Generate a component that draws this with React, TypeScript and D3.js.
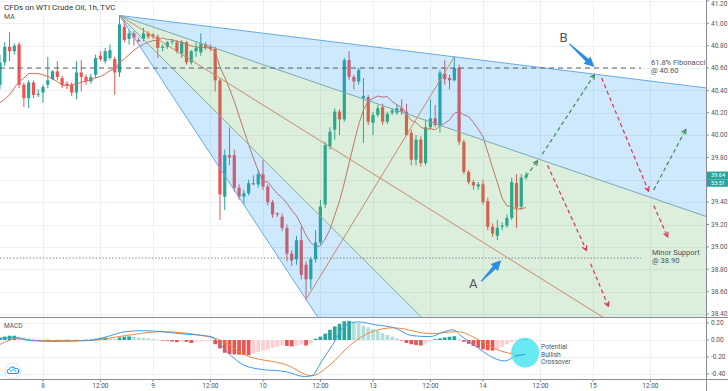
import React from "react";
import * as d3 from "d3";

const W = 728;
const H = 391;

// ---------- DATA ----------
const firstHour = -9; // hour index of first candle (0 = start of day "8")
const opens = [40.45,40.65,40.79,40.75,40.81,40.45,40.33,40.47,40.36,40.38,40.45,40.50,40.57,40.51,40.46,40.45,40.38,40.56,40.52,40.48,40.54,40.71,40.66,40.69,40.68,40.56,40.97,40.86,40.91,40.85,40.86,40.91,40.90,40.88,40.78,40.79,40.83,40.83,40.73,40.83,40.65,40.75,40.74,40.81,40.79,40.77,40.49,39.45,39.82,39.82,39.53,39.45,39.48,39.57,39.56,39.65,39.54,39.40,39.30,39.27,39.17,38.94,38.89,39.06,38.84,38.71,38.89,39.04,39.38,39.90,40.05,40.21,40.14,40.67,40.52,40.48,40.33,40.34,40.11,40.18,40.25,40.12,40.20,40.20,40.24,40.21,40.02,39.78,39.96,39.75,40.07,40.15,40.08,40.55,40.51,40.49,40.60,39.94,39.67,39.58,39.54,39.56,39.41,39.18,39.10,39.18,39.19,39.26,39.57,39.36,39.62];
const highs = [40.72,40.83,40.92,40.82,40.83,40.47,40.49,40.49,40.41,40.45,40.70,40.58,40.66,40.53,40.48,40.47,40.66,40.67,40.54,40.55,40.72,40.75,40.78,40.81,40.70,41.07,41.03,40.94,40.93,40.87,40.96,40.93,40.91,40.90,40.81,40.84,40.86,40.85,40.85,40.84,40.76,40.83,40.91,40.83,40.81,40.79,40.51,39.87,40.07,39.87,39.56,39.51,39.60,39.64,39.69,39.78,39.56,39.42,39.31,39.30,39.20,38.97,39.10,39.18,38.87,38.91,39.15,39.42,39.94,40.07,40.24,40.23,40.69,40.75,40.54,40.60,40.51,40.36,40.21,40.27,40.28,40.21,40.24,40.27,40.32,40.28,40.05,40.00,39.99,40.14,40.32,40.27,40.58,40.67,40.54,40.70,40.63,39.96,39.69,39.60,39.58,39.60,39.44,39.21,39.24,39.22,39.29,39.62,39.65,39.65,39.67];
const lows = [40.41,40.62,40.66,40.72,40.42,40.25,40.24,40.33,40.34,40.29,40.42,40.49,40.49,40.42,40.41,40.35,40.32,40.39,40.45,40.46,40.51,40.66,40.64,40.67,40.36,40.52,40.83,40.81,40.80,40.83,40.84,40.86,40.86,40.69,40.75,40.77,40.81,40.73,40.69,40.63,40.63,40.70,40.71,40.76,40.75,40.39,39.24,39.33,39.73,39.49,39.42,39.38,39.46,39.55,39.53,39.51,39.37,39.26,39.27,39.14,38.87,38.83,38.84,38.71,38.53,38.62,38.86,39.02,39.35,39.87,39.96,40.00,40.12,40.49,40.41,40.45,39.93,40.09,40.00,40.16,40.09,40.10,40.18,40.18,40.18,39.99,39.73,39.73,39.72,39.73,40.05,40.07,40.02,40.45,40.41,40.48,39.91,39.65,39.56,39.51,39.51,39.38,39.15,39.09,39.06,39.15,39.17,39.24,39.17,39.33,39.60];
const closes = [40.65,40.79,40.75,40.80,40.45,40.33,40.47,40.36,40.37,40.43,40.49,40.57,40.52,40.45,40.44,40.38,40.56,40.52,40.48,40.52,40.69,40.68,40.75,40.76,40.56,40.99,40.85,40.91,40.87,40.84,40.91,40.88,40.88,40.78,40.79,40.83,40.84,40.75,40.83,40.65,40.75,40.78,40.82,40.78,40.77,40.49,39.47,39.82,39.80,39.53,39.45,39.48,39.57,39.56,39.65,39.54,39.40,39.29,39.29,39.17,38.94,38.88,39.06,38.75,38.71,38.89,39.04,39.36,39.91,40.03,40.21,40.14,40.67,40.52,40.48,40.58,40.35,40.12,40.18,40.24,40.12,40.19,40.22,40.24,40.21,40.00,39.78,39.96,39.75,40.07,40.15,40.09,40.56,40.50,40.49,40.60,39.94,39.67,39.58,39.55,39.56,39.40,39.18,39.12,39.17,39.19,39.26,39.58,39.35,39.62,39.64];
// MA values before a full 10-candle window is visible
const maLead = [40.29,40.32,40.36,40.42,40.48,40.51,40.55,40.55,40.55];
const maPeriod = 10;

// MACD histogram (one value per candle)
const hist = [0.03,0.04,0.05,0.05,0.04,0.03,0.02,0.01,0.004,-0.003,0.003,-0.004,0.003,-0.003,0.004,-0.003,0.003,-0.003,0.004,0.006,0.015,0.025,0.03,0.02,0.015,0.03,0.04,0.042,0.035,0.03,0.025,0.02,0.012,0.005,-0.005,-0.008,-0.018,-0.025,-0.012,-0.022,-0.035,-0.02,-0.015,-0.01,-0.008,-0.05,-0.10,-0.15,-0.165,-0.17,-0.172,-0.175,-0.178,-0.16,-0.14,-0.125,-0.11,-0.095,-0.08,-0.065,-0.07,-0.075,-0.065,-0.055,-0.065,-0.04,0.015,0.04,0.075,0.12,0.16,0.19,0.22,0.225,0.21,0.2,0.17,0.15,0.13,0.11,0.08,0.06,0.04,0.02,-0.005,-0.035,-0.05,-0.06,-0.065,-0.04,-0.02,0.01,0.02,0.03,0.038,0.045,0.01,-0.02,-0.045,-0.07,-0.09,-0.11,-0.12,-0.125,-0.105,-0.08,-0.05,-0.025,-0.01,0.005,0.015];
// MACD line & signal line, [hour, value]
const macdPts: [number, number][] = [[-9,0.017],[-6,0.03],[-3,-0.006],[2.3,-0.017],[9.6,-0.006],[13.4,0.04],[17.2,0.098],[21,0.11],[24.7,0.098],[28.5,0.075],[35.2,0.04],[36.7,-0.03],[39,-0.167],[41.9,-0.293],[44.9,-0.34],[50.9,-0.374],[54.7,-0.43],[56.2,-0.42],[58.3,-0.247],[60.6,-0.052],[62.9,0.155],[65.8,0.213],[69.6,0.178],[73.4,0.144],[77.1,0.052],[80.9,0.04],[83.9,0.098],[85.7,0.12],[87.6,0.04],[91.4,-0.109],[93.5,-0.19],[96.6,-0.247],[98.7,-0.19],[100.8,-0.167]];
const signalPts: [number, number][] = [[-9,-0.052],[-5.2,0.017],[-1.5,-0.006],[9.6,-0.006],[17.2,0.052],[24.7,0.098],[34.4,0.04],[37.3,-0.006],[41.9,-0.167],[50.9,-0.293],[56.2,-0.42],[60,-0.293],[64.4,-0.052],[68.8,0.098],[73.4,0.144],[80.9,0.075],[86.8,0.098],[90.6,0.017],[95.8,-0.132],[98.7,-0.167],[100.8,-0.178]];

const priceTicks = [38.4,38.6,38.8,39.0,39.2,39.4,39.6,39.8,40.0,40.2,40.4,40.6,40.8,41.0,41.2];
const macdTicks = [0.2, 0, -0.2, -0.4];
const timeTickHours = [0,12,23,35,46,58,69,81,92,104,115,127];
const timeTickLabels = ["8","12:00","9","12:00","10","12:00","13","12:00","14","12:00","15","12:00"];

// Pitchfan anchors [hour, price]
const fanP1: [number, number] = [16, 41.07];
const fanP2: [number, number] = [55, 38.53];
const fanP3: [number, number] = [86, 40.70];
const fanLevels = [0, 0.25, 0.5, 0.75, 1];

const fibLevel = 40.60;
const supportLevel = 38.90;
const lastPrice = 39.64;
const countdown = "53:51";

// projected paths [hour, price]
const projGreen: [number, number][][] = [
  [[101,39.63],[103.4,39.77]],
  [[104.4,39.83],[115.3,40.54]],
  [[127.7,39.51],[134.4,40.05]],
];
const projRed: [number, number][][] = [
  [[105.5,39.73],[113.6,38.97]],
  [[114.5,38.85],[118.2,38.47]],
  [[116.8,40.51],[126.6,39.50]],
  [[127.7,39.37],[130.6,39.09]],
];
// annotation arrow tips [hour, price]
const tipA: [number, number] = [95.8, 38.88];
const tipB: [number, number] = [115.3, 40.61];
// MACD crossover marker [hour, value]
const crossMark: [number, number] = [100.8, -0.15];

// ---------- LAYOUT ----------
const axisX = 706;
const mainBottom = 317;
const macdBottom = 379;
const GREEN = "#26a69a";
const RED = "#ef5350";
const FONT = "Roboto, 'Noto Sans', sans-serif";

const x = d3.scaleLinear().domain([0, 115]).range([43, 593]);
const yP = d3.scaleLinear().domain([38.4, 40.6]).range([314, 68]);
const yM = d3.scaleLinear().domain([-0.4, 0]).range([374, 340]);

function chevron(pts: [number, number][]) {
  const a = pts[pts.length - 2], b = pts[pts.length - 1];
  const dx = b[0] - a[0], dy = b[1] - a[1];
  const L = Math.hypot(dx, dy);
  const ux = dx / L, uy = dy / L;
  const ang = 0.5, len = 5;
  const r = (s: number) => [
    b[0] - len * (ux * Math.cos(s * ang) - uy * Math.sin(s * ang)),
    b[1] - len * (uy * Math.cos(s * ang) + ux * Math.sin(s * ang)),
  ];
  const p1 = r(1), p2 = r(-1);
  return `M${p1[0]},${p1[1]}L${b[0]},${b[1]}L${p2[0]},${p2[1]}`;
}

function blockArrow(tail: [number, number], tip: [number, number]) {
  const dx = tip[0] - tail[0], dy = tip[1] - tail[1];
  const L = Math.hypot(dx, dy);
  const ux = dx / L, uy = dy / L, nx = -uy, ny = ux;
  const hl = 10, hw = 5, w0 = 0.6, w1 = 2;
  const bx = tip[0] - ux * hl, by = tip[1] - uy * hl;
  const p = [
    [tail[0] + nx * w0, tail[1] + ny * w0],
    [bx + nx * w1, by + ny * w1],
    [bx + nx * hw, by + ny * hw],
    [tip[0], tip[1]],
    [bx - nx * hw, by - ny * hw],
    [bx - nx * w1, by - ny * w1],
    [tail[0] - nx * w0, tail[1] - ny * w0],
  ];
  return "M" + p.map((q) => q.join(",")).join("L") + "Z";
}

export default function App() {
  const n = closes.length;
  const hours = d3.range(n).map((i) => firstHour + i);
  const ma = hours.map((_, i) =>
    i < maPeriod - 1 ? maLead[i] : d3.mean(closes.slice(i - maPeriod + 1, i + 1)) as number
  );
  const maLine = d3.line<number>().x((_, i) => x(hours[i])).y((v) => yP(v))(ma) || "";
  const macdLine = d3.line<[number, number]>().x((d) => x(d[0])).y((d) => yM(d[1])).curve(d3.curveMonotoneX);
  const projLine = d3.line<[number, number]>().x((d) => x(d[0])).y((d) => yP(d[1]));

  // fan geometry
  const P1: [number, number] = [x(fanP1[0]), yP(fanP1[1])];
  const P2: [number, number] = [x(fanP2[0]), yP(fanP2[1])];
  const P3: [number, number] = [x(fanP3[0]), yP(fanP3[1])];
  const far = fanLevels.map((t) => {
    const tx = P3[0] + t * (P2[0] - P3[0]);
    const ty = P3[1] + t * (P2[1] - P3[1]);
    return [P1[0] + (tx - P1[0]) * 20, P1[1] + (ty - P1[1]) * 20] as [number, number];
  });
  const tri = (a: number, b: number) => `M${P1[0]},${P1[1]}L${far[a][0]},${far[a][1]}L${far[b][0]},${far[b][1]}Z`;
  const fanLineColors = ["#6aa9e2", "#7aaab4", "#c98a6b", "#86b08f", "#6aa9e2"];

  const bw = 3.2;
  const hw = 3.7;

  const tB: [number, number] = [x(tipB[0]), yP(tipB[1])];
  const tA: [number, number] = [x(tipA[0]), yP(tipA[1])];
  const lastY = yP(lastPrice);

  return (
    <svg width={W} height={H} style={{ position: "absolute", left: 0, top: 0, background: "#fff", fontFamily: FONT }}>
      <defs>
        <clipPath id="mainClip"><rect x={0} y={0} width={axisX} height={mainBottom} /></clipPath>
        <clipPath id="macdClip"><rect x={0} y={mainBottom + 1} width={axisX} height={macdBottom - mainBottom - 1} /></clipPath>
      </defs>

      {/* grid */}
      <g stroke="#eef0f4" strokeWidth={1}>
        {timeTickHours.map((h, i) => (
          <line key={"vg" + i} x1={Math.round(x(h)) + 0.5} x2={Math.round(x(h)) + 0.5} y1={0} y2={macdBottom} />
        ))}
        {priceTicks.map((p, i) => (
          <line key={"hg" + i} x1={0} x2={axisX} y1={Math.round(yP(p)) + 0.5} y2={Math.round(yP(p)) + 0.5} />
        ))}
        {macdTicks.map((v, i) => (
          <line key={"mg" + i} x1={0} x2={axisX} y1={Math.round(yM(v)) + 0.5} y2={Math.round(yM(v)) + 0.5} />
        ))}
      </g>

      <g clipPath="url(#mainClip)">
        {/* candles */}
        {hours.map((h, i) => {
          const up = closes[i] >= opens[i];
          const c = up ? GREEN : RED;
          const cx = x(h);
          const top = yP(Math.max(opens[i], closes[i]));
          const bot = yP(Math.min(opens[i], closes[i]));
          return (
            <g key={"c" + i}>
              <line x1={cx} x2={cx} y1={yP(highs[i])} y2={yP(lows[i])} stroke={c} strokeWidth={1} />
              <rect x={cx - bw / 2} y={top} width={bw} height={Math.max(1, bot - top)} fill={c} />
            </g>
          );
        })}
        {/* MA */}
        <path d={maLine} fill="none" stroke="#df6a60" strokeWidth={1} />

        {/* fan fills */}
        <path d={tri(0, 1)} fill="rgba(33,150,243,0.22)" />
        <path d={tri(1, 3)} fill="rgba(76,175,80,0.2)" />
        <path d={tri(3, 4)} fill="rgba(33,150,243,0.22)" />
        {far.map((f, i) => (
          <line key={"fl" + i} x1={P1[0]} y1={P1[1]} x2={f[0]} y2={f[1]} stroke={fanLineColors[i]} strokeWidth={1} />
        ))}
        <line x1={P2[0]} y1={P2[1]} x2={P3[0]} y2={P3[1]} stroke="#c98a6b" strokeWidth={1} />

        {/* horizontal levels */}
        <line x1={0} x2={641} y1={yP(fibLevel)} y2={yP(fibLevel)} stroke="#5d606b" strokeWidth={1.1} strokeDasharray="5 4" />
        <line x1={0} x2={641} y1={yP(supportLevel)} y2={yP(supportLevel)} stroke="#787b86" strokeWidth={1} strokeDasharray="1.3 2" />

        {/* projections */}
        {projGreen.map((pts, i) => (
          <g key={"pg" + i} stroke="#3f8c5c" strokeWidth={1.2} fill="none">
            <path d={projLine(pts) || ""} strokeDasharray="4 3" />
            <path d={chevron(pts.map((d) => [x(d[0]), yP(d[1])] as [number, number]))} />
          </g>
        ))}
        {projRed.map((pts, i) => (
          <g key={"pr" + i} stroke="#e3334f" strokeWidth={1.2} fill="none">
            <path d={projLine(pts) || ""} strokeDasharray="4 3" />
            <path d={chevron(pts.map((d) => [x(d[0]), yP(d[1])] as [number, number]))} />
          </g>
        ))}

        {/* arrows */}
        <path d={blockArrow([tB[0] - 25, tB[1] - 23], tB)} fill="#2b8de6" />
        <path d={blockArrow([tA[0] - 20, tA[1] + 21], tA)} fill="#2b8de6" />
        <text x={tB[0] - 31} y={tB[1] - 25} fontSize={13} fill="#50535e" textAnchor="middle">B</text>
        <text x={tA[0] - 28} y={tA[1] + 28} fontSize={13} fill="#50535e" textAnchor="middle">A</text>
      </g>

      {/* level labels */}
      <g fontSize={7.5} fill="#50535e">
        <text x={651} y={yP(fibLevel) - 3}>61.8% Fibonacci</text>
        <text x={651} y={yP(fibLevel) + 5}>@ 40.60</text>
        <text x={652} y={yP(supportLevel) - 3.5}>Minor Support</text>
        <text x={652} y={yP(supportLevel) + 4.5}>@ 38.90</text>
      </g>

      {/* MACD panel */}
      <g clipPath="url(#macdClip)">
        {hours.map((h, i) => {
          const v = hist[i];
          const prev = i > 0 ? hist[i - 1] : v;
          const col = v >= 0 ? (v >= prev ? GREEN : "#b2dfdb") : (v <= prev ? RED : "#ffcdd2");
          const y0 = yM(0), y1 = yM(v);
          return <rect key={"h" + i} x={x(h) - hw / 2} y={Math.min(y0, y1)} width={hw} height={Math.max(0.6, Math.abs(y1 - y0))} fill={col} />;
        })}
        <path d={macdLine(signalPts) || ""} fill="none" stroke="#f0883e" strokeWidth={1} />
        <path d={macdLine(macdPts) || ""} fill="none" stroke="#3d9be9" strokeWidth={1} />
        <ellipse cx={x(crossMark[0])} cy={yM(crossMark[1])} rx={14} ry={15} fill="#4fe6f0" opacity={0.85} />
        <path d={macdLine(macdPts.slice(-2)) || ""} fill="none" stroke="#3d9be9" strokeWidth={1} />
      </g>
      <g fontSize={6.6} fill="#50535e">
        <text x={x(crossMark[0]) + 16} y={yM(crossMark[1]) - 4}>Potential</text>
        <text x={x(crossMark[0]) + 16} y={yM(crossMark[1]) + 3.8}>Bullish</text>
        <text x={x(crossMark[0]) + 16} y={yM(crossMark[1]) + 11.6}>Crossover</text>
      </g>
      <text x={4} y={328} fontSize={6.5} fill="#50535e">MACD</text>
      <g>
        <circle cx={13} cy={371} r={8} fill="#fff" stroke="#e0e3eb" />
        <path d="M8.5,373.5 a2.2,2.2 0 0 1 0.8,-4.2 a3,3 0 0 1 5.6,-0.8 a2.4,2.4 0 0 1 2.3,5 Z" fill="none" stroke="#2196f3" strokeWidth={1.1} />
        <path d="M10,371.5 l3,-2 l3,2" fill="none" stroke="#2196f3" strokeWidth={0.9} />
      </g>

      {/* title */}
      <text x={4} y={10} fontSize={8} fill="#333">CFDs on WTI Crude Oil, 1h, TVC</text>
      <text x={4} y={19} fontSize={7} fill="#50535e">MA</text>

      {/* frame lines */}
      <line x1={axisX + 0.5} x2={axisX + 0.5} y1={0} y2={H} stroke="#8a8d96" />
      <line x1={0} x2={W} y1={mainBottom + 0.5} y2={mainBottom + 0.5} stroke="#8a8d96" />
      <line x1={0} x2={W} y1={macdBottom + 0.5} y2={macdBottom + 0.5} stroke="#8a8d96" />

      {/* right price axis (labels hidden where the last-price tag sits) */}
      <g fontSize={6.5} fill="#50535e">
        {priceTicks.map((p, i) => (
          <g key={"pt" + i}>
            <line x1={axisX} x2={axisX + 3} y1={yP(p)} y2={yP(p)} stroke="#8a8d96" />
            {Math.abs(yP(p) - (lastY + 3.8)) > 10 && (
              <text x={axisX + 5} y={Math.max(yP(p) + 2.3, 5.5)}>{p.toFixed(2)}</text>
            )}
          </g>
        ))}
        {macdTicks.map((v, i) => (
          <g key={"mt" + i}>
            <line x1={axisX} x2={axisX + 3} y1={yM(v)} y2={yM(v)} stroke="#8a8d96" />
            <text x={axisX + 5} y={yM(v) + 2.3}>{v.toFixed(2)}</text>
          </g>
        ))}
      </g>
      <rect x={axisX + 1} y={lastY - 3.8} width={W - axisX - 1} height={7.5} fill={GREEN} />
      <rect x={axisX + 1} y={lastY + 3.9} width={W - axisX - 1} height={7.5} fill={GREEN} />
      <text x={axisX + 5} y={lastY + 2} fontSize={5.6} fill="#fff">{lastPrice.toFixed(2)}</text>
      <text x={axisX + 5} y={lastY + 9.8} fontSize={5.6} fill="#fff">{countdown}</text>

      {/* time axis */}
      <g fontSize={6.5} fill="#50535e" textAnchor="middle">
        {timeTickHours.map((h, i) => (
          <g key={"tt" + i}>
            <line x1={x(h)} x2={x(h)} y1={macdBottom} y2={macdBottom + 3} stroke="#8a8d96" />
            <text x={x(h)} y={388}>{timeTickLabels[i]}</text>
          </g>
        ))}
      </g>
    </svg>
  );
}
